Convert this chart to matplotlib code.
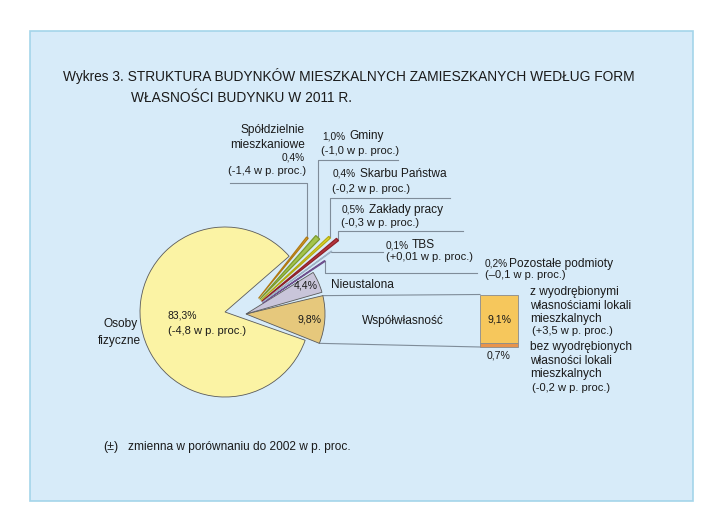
import numpy as np
import matplotlib
matplotlib.use("Agg")
import matplotlib.pyplot as plt
from matplotlib.patches import Wedge, Rectangle

# ---------------- data ----------------
categories = ["Osoby fizyczne", "Współwłasność", "Nieustalona", "Pozostałe podmioty",
              "TBS", "Zakłady pracy", "Skarbu Państwa", "Gminy", "Spółdzielnie mieszkaniowe"]
shares = [83.3, 9.8, 4.4, 0.2, 0.1, 0.5, 0.4, 1.0, 0.4]
share_labels = ["83,3%", "9,8%", "4,4%", "0,2%", "0,1%", "0,5%", "0,4%", "1,0%", "0,4%"]
change_labels = ["(-4,8 w p. proc.)", "", "", "(–0,1 w p. proc.)", "(+0,01 w p. proc.)",
                 "(-0,3 w p. proc.)", "(-0,2 w p. proc.)", "(-1,0 w p. proc.)", "(-1,4 w p. proc.)"]
colors = ["#fbf3a4", "#e6c87c", "#c9c5da", "#8a6aa6", "#eef5fb",
          "#b8343c", "#e4dc2c", "#a3c44c", "#e0a42c"]
edge_colors = ["#5a5a5a", "#5a5a5a", "#5a5a5a", "#6e4f8c", "#9fb3c6",
               "#8e2229", "#b3ab14", "#7b9a2e", "#b07a14"]

co_categories = [["bez wyodrębionych", "własności lokali", "mieszkalnych"],
                 ["z wyodrębionymi", "własnościami lokali", "mieszkalnych"]]
co_shares = [0.7, 9.1]
co_labels = ["0,7%", "9,1%"]
co_changes = ["(-0,2 w p. proc.)", "(+3,5 w p. proc.)"]
co_colors = ["#e8944c", "#f6c75c"]

FONT = ["Liberation Sans", "DejaVu Sans"]
plt.rcParams["font.family"] = FONT

fig = plt.figure(figsize=(7.11, 5.18), dpi=100)
ax = fig.add_axes([0, 0, 1, 1])
ax.set_xlim(0, 711)
ax.set_ylim(518, 0)
ax.axis("off")

# panel
ax.add_patch(Rectangle((29.5, 30.5), 663.5, 470, facecolor="#d7ebf9",
                       edgecolor="#a4d5ea", lw=1.2, zorder=0))

def d(phi):
    r = np.deg2rad(phi)
    return np.array([np.cos(r), -np.sin(r)])

total = sum(shares)
deg = [360.0 * s / total for s in shares]

# ---------- pie ----------
c_main = np.array([225.0, 312.0])
c_right = np.array([246.0, 314.0])
yellow_start = 41.0
ax.add_patch(Wedge(tuple(c_main), 85, -(yellow_start + deg[0]), -yellow_start,
                   facecolor=colors[0], edgecolor=edge_colors[0], lw=0.6, zorder=2))

# radii of the exploded thin slices (indices 3..8)
small_r = {3: 75, 4: 86, 5: 98, 6: 93.5, 7: 85, 8: 78}
angles = {}
start = -21.8
gaps = [None, 1.5, 2.5, 1.8, 1.8, 1.8, 1.8, 1.8, 1.8]
cur = start
tips = {}
for i in range(1, len(shares)):
    if i > 1:
        cur += gaps[i]
    a1, a2 = cur, cur + deg[i]
    cur = a2
    mid = 0.5 * (a1 + a2)
    angles[i] = (a1, a2, mid)
    if i <= 2:
        cen = c_right
        r = 79
        lw = 0.6
    else:
        cen = c_right + 20 * d(mid)
        r = small_r[i]
        lw = 0.9
    ax.add_patch(Wedge(tuple(cen), r, -a2, -a1, facecolor=colors[i],
                       edgecolor=edge_colors[i], lw=lw, zorder=2))
    tips[i] = (cen, r)

# ---------- co-ownership bar ----------
bar_x = 499
bar_w = 38
bar_bottom = 347.0
scale = 52.5 / sum(co_shares)
cum = 0.0
for v, col in zip(co_shares, co_colors):
    ax.bar(bar_x, -v * scale, bottom=bar_bottom - cum * scale, width=bar_w,
           color=col, edgecolor="#8a8a8a", lw=0.6, zorder=2)
    cum += v
bar_top = bar_bottom - cum * scale

LC = "#7f8c99"
a1, a2, _ = angles[1]
cen, r = tips[1]
ptop = cen + r * d(a2)
pbot = cen + r * d(a1)
ax.plot([ptop[0], bar_x - bar_w / 2], [ptop[1], bar_top], color=LC, lw=0.8, zorder=1)
ax.plot([pbot[0], bar_x - bar_w / 2], [pbot[1], bar_bottom], color=LC, lw=0.8, zorder=1)

# ---------- leader lines for small slices ----------
def tip_point(i):
    cen, r = tips[i]
    return cen + r * d(angles[i][2])

# (index, y of horizontal, x end of horizontal)
leaders = [(8, 183.0, 230.0), (7, 159.5, 398.0), (6, 197.5, 450.0),
           (5, 231.0, 463.0), (4, 251.5, 383.0), (3, 272.5, 477.0)]
for i, yh, xe in leaders:
    p = tip_point(i)
    ax.plot([p[0], p[0], xe], [p[1], yh, yh], color=LC, lw=0.8, zorder=1)

# ---------- texts ----------
TC = "#1a1a1a"
NAME = 8.6
CHG = 8.0
PCT = 7.3
def t(x, y, s, size=NAME, ha="left", **kw):
    ax.text(x, y, s, fontsize=size, ha=ha, va="center", color=TC, **kw)

t(63, 76, "Wykres 3. STRUKTURA BUDYNKÓW MIESZKALNYCH ZAMIESZKANYCH WEDŁUG FORM", 9.9)
t(131, 98, "WŁASNOŚCI BUDYNKU W 2011 R.", 9.9)

# Spółdzielnie (right aligned)
t(305, 130, "Spółdzielnie", NAME, ha="right")
t(305, 145, "mieszkaniowe", NAME, ha="right")
t(305, 157.5, share_labels[8], PCT, ha="right")
t(306.5, 171.5, change_labels[8], CHG, ha="right")
# Gminy
t(322, 136.5, share_labels[7], PCT)
t(349, 136.5, "Gminy", NAME)
t(321, 151.5, change_labels[7], CHG)
# Skarbu Państwa
t(333, 174, share_labels[6], PCT)
t(360, 174, "Skarbu Państwa", NAME)
t(332, 188.5, change_labels[6], CHG)
# Zakłady pracy
t(342, 209.5, share_labels[5], PCT)
t(369, 209.5, "Zakłady pracy", NAME)
t(341, 223.5, change_labels[5], CHG)
# TBS
t(386, 245, share_labels[4], PCT)
t(412, 245, "TBS", NAME)
t(386, 257.5, change_labels[4], CHG)
# Pozostałe
t(485, 263.5, share_labels[3], PCT)
t(509, 263.5, "Pozostałe podmioty", NAME)
t(485, 275.5, change_labels[3], CHG)
# Nieustalona
t(331, 284.5, categories[2], NAME)
t(306, 286, share_labels[2], PCT + 0.3, ha="center")
# Współwłasność
t(403, 321, categories[1], NAME, ha="center")
t(310, 319, share_labels[1], PCT + 0.3, ha="center")
t(bar_x, 320, co_labels[1], PCT + 0.3, ha="center")
t(bar_x, 356, co_labels[0], PCT + 0.3, ha="center")
# co-ownership descriptions
for k, yy in enumerate([292.3, 305.8, 319.3]):
    t(530, yy, co_categories[1][k], NAME)
t(531.5, 331, co_changes[1], CHG)
for k, yy in enumerate([347.3, 360.8, 374.5]):
    t(530, yy, co_categories[0][k], NAME)
t(531.5, 388, co_changes[0], CHG)
# Osoby fizyczne
t(168, 315, share_labels[0], PCT + 0.2)
t(168, 331, change_labels[0], CHG)
t(121, 324, "Osoby", NAME, ha="center")
t(119, 341, "fizyczne", NAME, ha="center")
# footnote
t(103, 447, "(±)", 9)
t(128, 447, "zmienna w porównaniu do 2002 w p. proc.", NAME)

fig.savefig("out.png", dpi=100, facecolor="white")
